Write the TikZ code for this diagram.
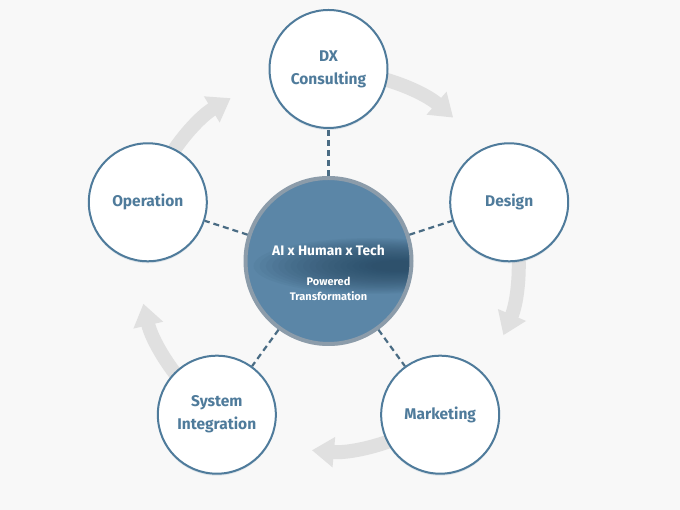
\documentclass[tikz,border=0pt]{standalone}
\usepackage{fontspec}
\setmainfont{Fira Sans}
\usetikzlibrary{arrows.meta,shadows}
\definecolor{bgGrey}{HTML}{F8F8F8}
\definecolor{stepBlue}{HTML}{4F7B9B}
\definecolor{hubBlue}{HTML}{5B86A7}
\definecolor{hubDark}{HTML}{1F3F56}
\definecolor{hubRim}{HTML}{8C9CAA}
\definecolor{lineBlue}{HTML}{4A6C84}
\definecolor{arrowGrey}{HTML}{E0E0E0}
\newcommand{\flowArrow}[1]{%%
  %% Grey arrow leaving the step placed at angle #1.
  \draw[arrowStyle] ([shift={(#1-8:\ringRadius pt)}]centre)
    arc[start angle=#1-8, end angle=#1-41, radius=\ringRadius pt];
}
\newcommand{\hubGlow}{%%
  %% Soft dark band across the hub, built from faint ellipses.
  \foreach \k in {0,...,19}
    {\fill[hubDark,opacity=0.05]
      ([shift={(45+1.2*\k,-5)}]path picture bounding box.center)
      ellipse[x radius=120-5*\k, y radius=28-1.2*\k];}
}

\begin{document}
\begin{tikzpicture}[x=1pt,y=1pt,%%
  stepStyle/.style={circle,draw=stepBlue,line width=2pt,fill=white,
    minimum size=118pt,align=center,text=stepBlue,
    font=\fontsize{15.5}{23}\selectfont\bfseries,
    drop shadow={shadow xshift=0pt,shadow yshift=-2pt,fill=stepBlue,opacity=0.15}},%%
  hubStyle/.style={circle,draw=hubRim,line width=4pt,fill=hubBlue,
    minimum size=166pt,
    drop shadow={shadow xshift=0pt,shadow yshift=-2pt,fill=black,opacity=0.12},
    path picture={\hubGlow}},%%
  hubText/.style={text=white,font=\fontsize{13.8}{16}\selectfont\bfseries},%%
  subText/.style={text=white,align=center,font=\fontsize{11}{15}\selectfont\bfseries},%%
  dashStyle/.style={draw=lineBlue,line width=2.2pt,dash pattern=on 6pt off 4pt},%%
  arrowStyle/.style={draw=arrowGrey,line width=14pt,
    -{Triangle[width=29pt,length=22pt]}}
]
%%
%% Canvas and ring.
\useasboundingbox (0,0) rectangle (680,510);
\fill[bgGrey] (0,0) rectangle (680,510);
\pgfmathsetmacro{\ringRadius}{190}
\coordinate (centre) at (328.5,249);
%%
%% Grey arrows round the ring.
\foreach \a in {90,18,-54,-126,162} {\flowArrow{\a}}
%%
%% The hub and the five steps.
\node[hubStyle] (hub) at (centre) {};
\node[stepStyle] (consulting) at ([shift={(90:\ringRadius pt+2pt)}]centre) {DX\\Consulting};
\node[stepStyle] (design) at ([shift={(18:\ringRadius pt)}]centre) {Design};
\node[stepStyle] (marketing) at ([shift={(-54:\ringRadius pt)}]centre) {Marketing};
\node[stepStyle] (integration) at ([shift={(-126:\ringRadius pt)}]centre) {System\\Integration};
\node[stepStyle] (operation) at ([shift={(162:\ringRadius pt)}]centre) {Operation};
%%
%% Texts of the hub.
\node[hubText] (hubTitle) at ([yshift=11]centre) {AI x Human x Tech};
\node[subText] (hubSub) at ([yshift=-28]centre) {Powered\\Transformation};
%%
%% Dashed links from the hub.
\foreach \s in {consulting,design,marketing,integration,operation}
  {\draw[dashStyle] (hub) -- (\s);}

\end{tikzpicture}
\end{document}
